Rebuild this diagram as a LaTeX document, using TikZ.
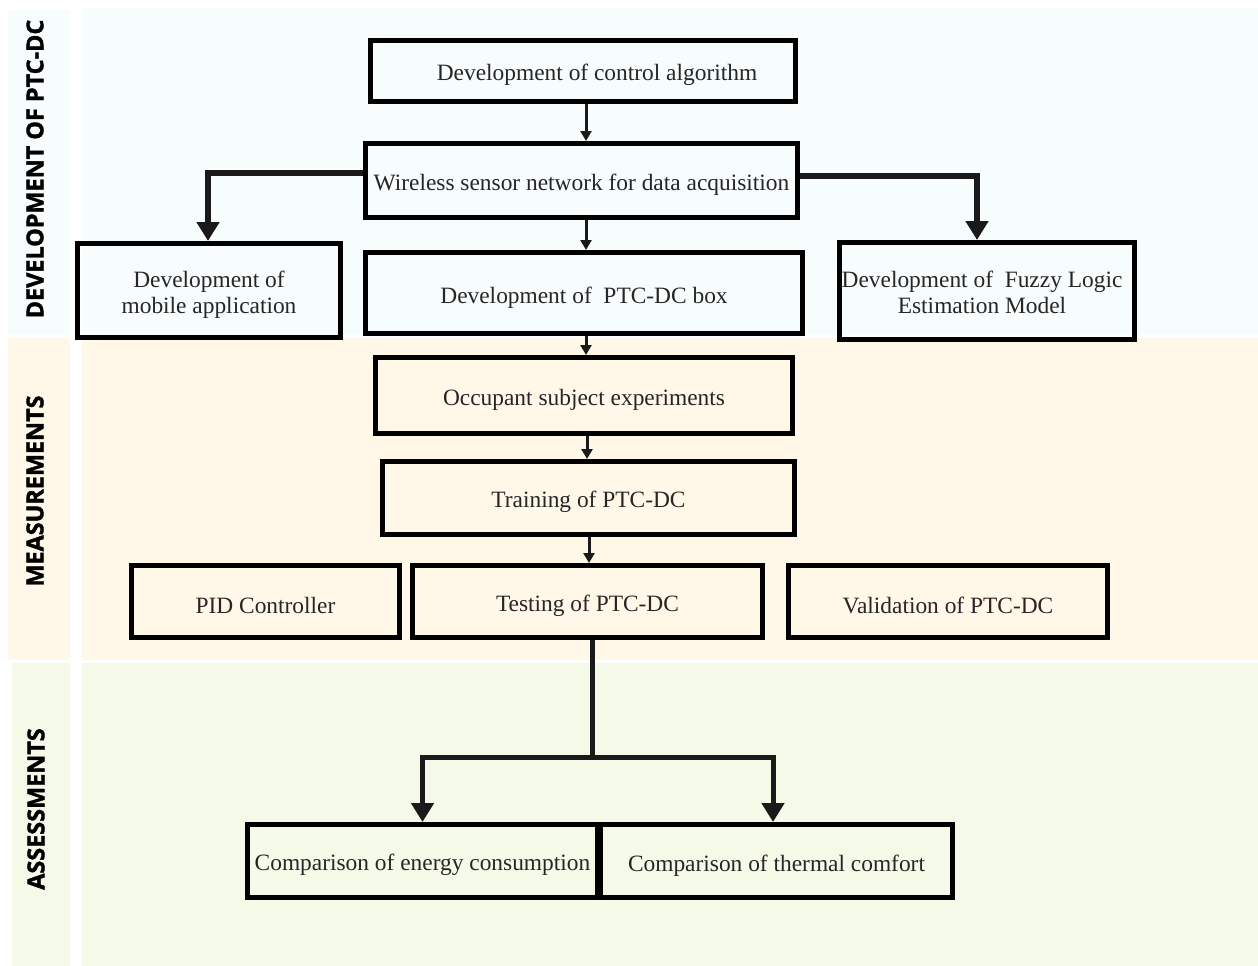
\documentclass[tikz,border=0pt]{standalone}
\usepackage{fontspec}
\setmainfont{Liberation Serif}
\newfontfamily\labelfont[BoldFeatures={FakeBold=1.5}]{Open Sans}
\usetikzlibrary{arrows.meta}
\definecolor{bgtop}{HTML}{F7FCFC}
\definecolor{bgmid}{HTML}{FFF8E8}
\definecolor{bgbot}{HTML}{F5F9E8}
\definecolor{linec}{HTML}{1A1A1A}
\tikzset{
  stage/.style={draw=black, line width=5pt, rectangle, inner sep=0pt, align=center,
    font=\fontsize{23.4}{26.5}\selectfont, text=black!85, text height=25pt},
  twoline/.style={text height=51.5pt},
  thinarrow/.style={draw=linec, line width=3pt, -{Triangle[width=11pt,length=10pt]}},
  thickarrow/.style={draw=linec, line width=6pt, -{Triangle[width=22pt,length=19pt]}},
  thickline/.style={draw=linec, line width=5pt},
  sidelabel/.style={rotate=90, font=\labelfont\bfseries\fontsize{23.4}{26}\selectfont, text=black},
}
\begin{document}
\begin{tikzpicture}[x=1pt,y=-1pt]
\useasboundingbox (0,0) rectangle (1258,966);
% backgrounds
\fill[white] (0,0) rectangle (1258,966);
\fill[bgtop] (8,10) rectangle (70,335);
\fill[bgtop] (82,8) rectangle (1258,335);
\fill[bgmid] (8,338) rectangle (70,660);
\fill[bgmid] (82,338) rectangle (1258,660);
\fill[bgbot] (12,663) rectangle (70,966);
\fill[bgbot] (82,663) rectangle (1258,966);
% side labels
\node[sidelabel] (lab1) at (35,169) {DEVELOPMENT OF PTC-DC};
\node[sidelabel] (lab2) at (35,491) {MEASUREMENTS};
\node[sidelabel] (lab3) at (36,809) {ASSESSMENTS};
% boxes
\node[stage, minimum width=425pt, minimum height=61pt] (ctrl) at (583,71) {\hspace*{28pt}Development of control algorithm};
\node[stage, minimum width=432pt, minimum height=74pt] (wsn) at (581.5,180.5) {Wireless sensor network for data acquisition};
\node[stage, twoline, minimum width=263pt, minimum height=94pt] (mob) at (209,290.5) {Development of\\mobile application};
\node[stage, minimum width=437pt, minimum height=81pt] (box) at (584,293) {Development of~~PTC-DC box};
\node[stage, twoline, text height=45.5pt, minimum width=295pt, minimum height=97pt] (fuzzy) at (987,291) {Development of~~Fuzzy Logic\hspace*{10pt}\\Estimation Model\hspace*{10pt}};
\node[stage, minimum width=417pt, minimum height=76pt] (occ) at (584,395.5) {Occupant subject experiments};
\node[stage, minimum width=412pt, minimum height=73pt] (train) at (588.5,498) {Training of PTC-DC};
\node[stage, minimum width=268pt, minimum height=72pt] (pid) at (265.5,601.5) {PID Controller};
\node[stage, minimum width=350pt, minimum height=72pt] (test) at (587.5,601.5) {Testing of PTC-DC};
\node[stage, minimum width=319pt, minimum height=72pt] (valid) at (948,601.5) {Validation of PTC-DC};
\node[stage, minimum width=350pt, minimum height=73pt] (energy) at (422.5,861) {Comparison of energy consumption};
\node[stage, minimum width=352pt, minimum height=73pt] (thermal) at (776.5,861) {Comparison of thermal comfort};
% connectors
\draw[thinarrow] ([xshift=3pt]ctrl.south) -- ([xshift=3pt]ctrl.south |- wsn.north);
\draw[thinarrow] ([xshift=4.5pt]wsn.south) -- ([xshift=4.5pt]wsn.south |- box.north);
\draw[thinarrow] ([xshift=2pt]box.south) -- ([xshift=2pt]box.south |- occ.north);
\draw[thinarrow] ([xshift=3pt]occ.south) -- ([xshift=3pt]occ.south |- train.north);
\draw[thinarrow] ([xshift=0.5pt]train.south) -- ([xshift=0.5pt]train.south |- test.north);
\draw[thickarrow] ([yshift=7.5pt]wsn.west) -| ([xshift=-1pt]mob.north);
\draw[thickarrow] ([yshift=4.5pt]wsn.east) -| ([xshift=-10pt]fuzzy.north);
\draw[thickline] ([xshift=4.5pt]test.south) -- ++(0,117) coordinate (split);
\draw[thickarrow, line width=5pt] (split) -| (energy.north);
\draw[thickarrow, line width=5pt] (split) -| ([xshift=-3.5pt]thermal.north);
\end{tikzpicture}
\end{document}
